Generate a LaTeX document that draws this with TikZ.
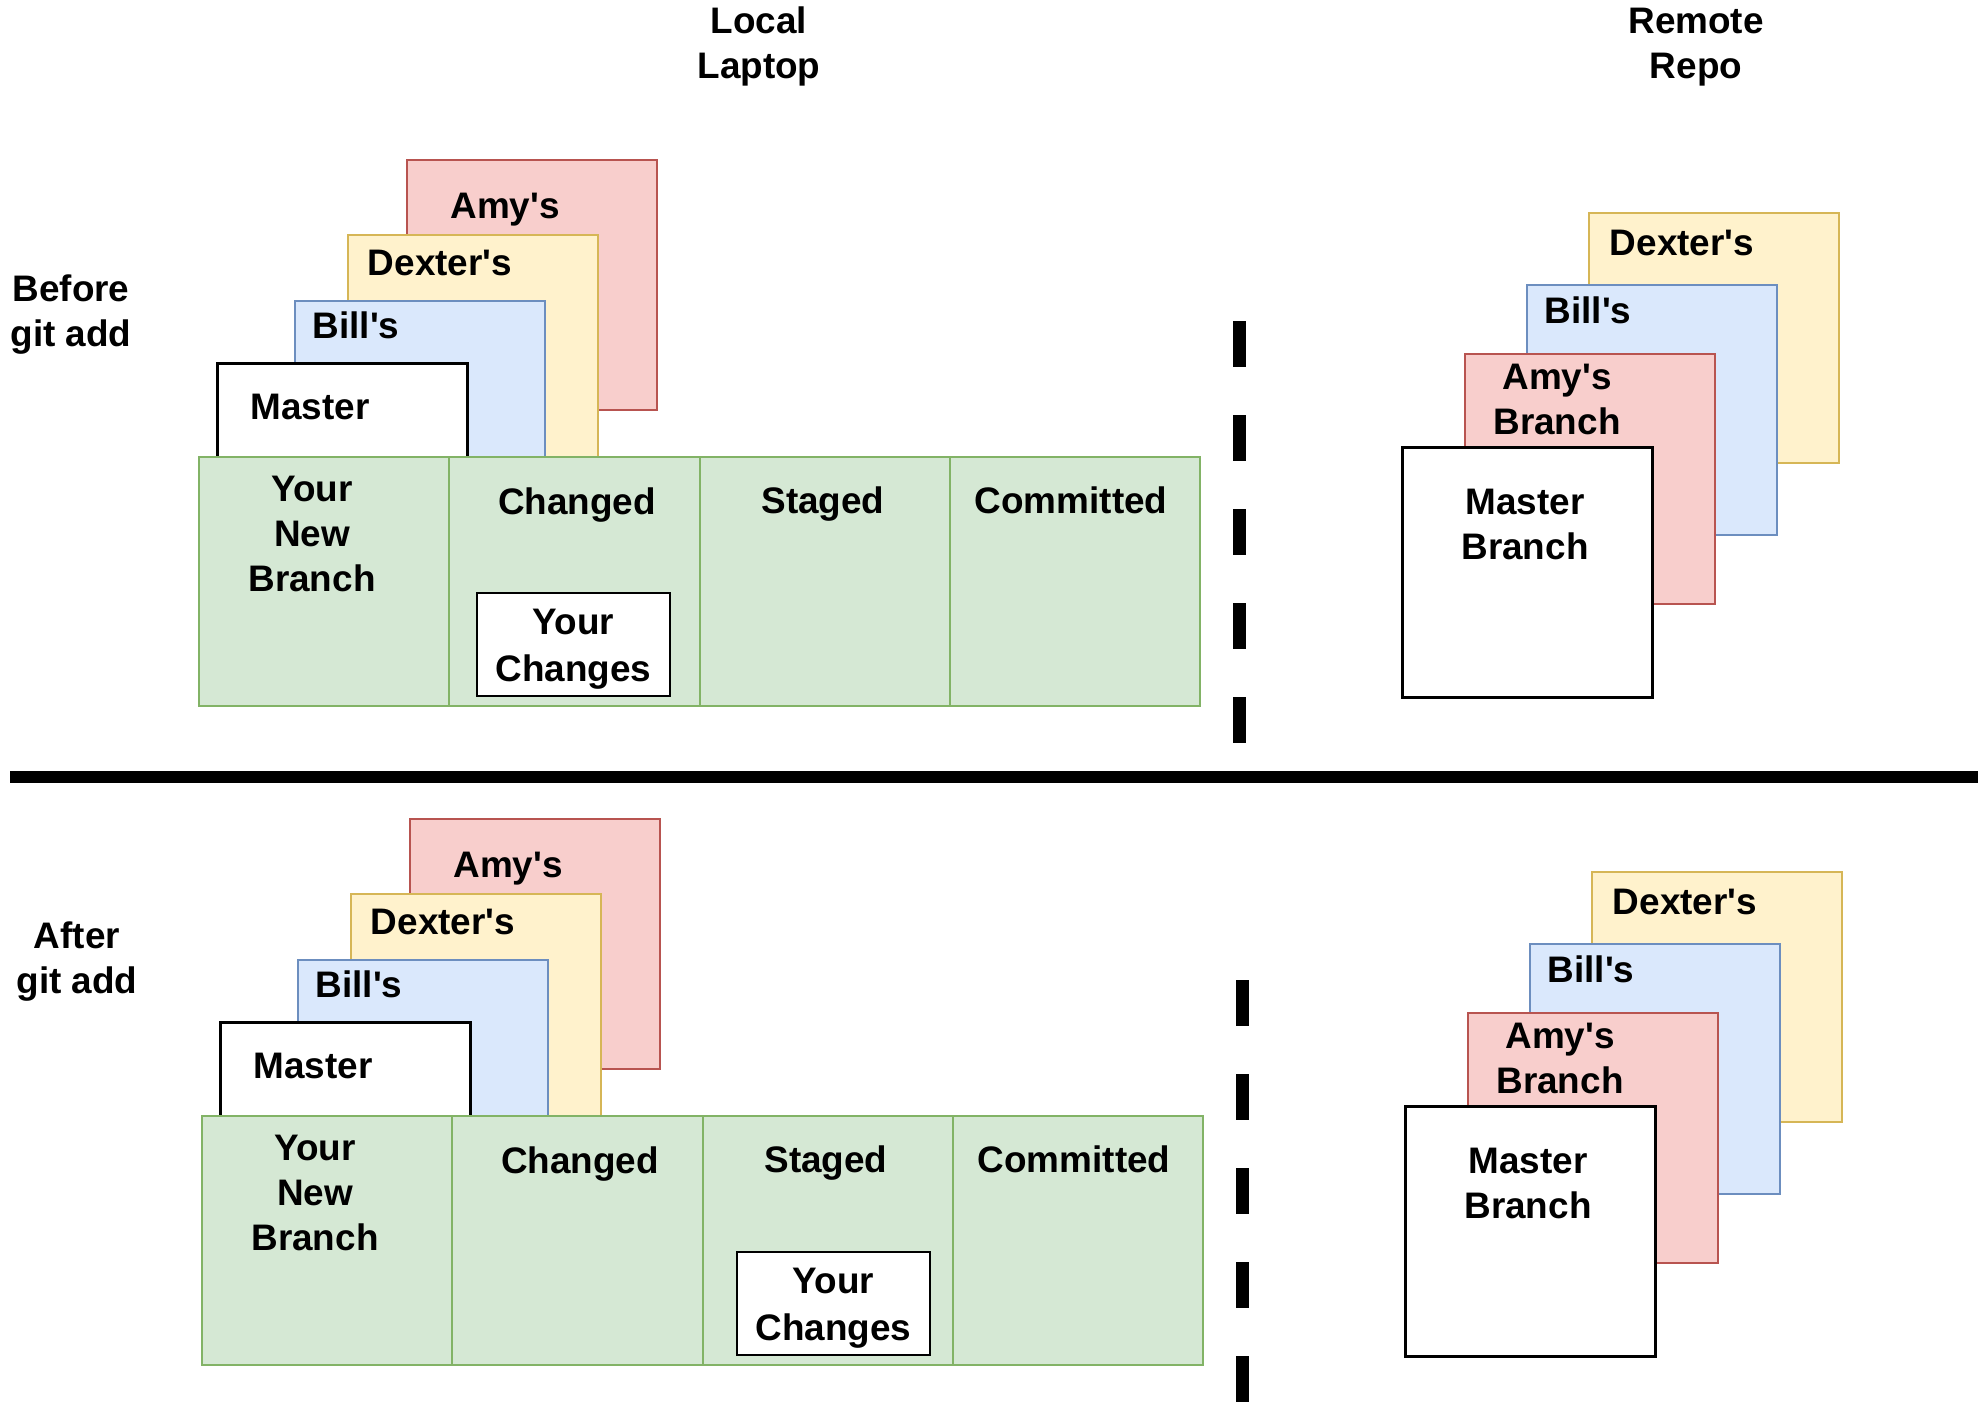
\documentclass[tikz,border=0pt]{standalone}
\usepackage{fontspec}
\setmainfont{Liberation Sans}
\definecolor{amyfill}{HTML}{F8CECC}\definecolor{amyline}{HTML}{B85450}
\definecolor{dexfill}{HTML}{FFF2CC}\definecolor{dexline}{HTML}{D6B656}
\definecolor{billfill}{HTML}{DAE8FC}\definecolor{billline}{HTML}{6C8EBF}
\definecolor{stagefill}{HTML}{D5E8D4}\definecolor{stageline}{HTML}{82B366}
\newcommand{\apos}{\textquotesingle}
\begin{document}
\begin{tikzpicture}[x=0.5pt,y=-0.5pt,
  every node/.style={font=\fontsize{18.45}{22.5}\selectfont\bfseries},
  sheet/.style={draw, line width=1pt, anchor=north west, inner sep=0pt,
    minimum width=125pt, minimum height=125pt},
  plainsheet/.style={sheet, fill=white, draw=black, line width=1.3pt},
  cell/.style={draw=stageline, fill=stagefill, line width=1pt, anchor=north west,
    inner sep=0pt, minimum width=125.125pt, minimum height=124.5pt},
  % text boxes: height runs from the cap line of the first row to the last baseline
  lbl/.style={inner sep=0pt, align=center, text height=13.21pt, text depth=0pt},
  lbltwo/.style={lbl, text height=35.71pt},
  lblthree/.style={lbl, text height=58.21pt},
  changes/.style={draw=black, fill=white, line width=1.4pt, inner sep=0pt,
    minimum width=96.5pt, minimum height=51.5pt, align=center,
    font=\fontsize{18.45}{23.5}\selectfont\bfseries,
    text height=36.71pt, text depth=0pt},
  divider/.style={line width=6.5pt, dash pattern=on 23pt off 24pt},
  rule/.style={line width=6pt}]
\useasboundingbox (0,0) rectangle (1984,1408);

% column headings
\node[lbltwo] (hlocal) at (759,43) {Local\\Laptop};
\node[lbltwo] (hremote) at (1696,43) {Remote\\Repo};

% row headings
\node[lbltwo] (hbefore) at (71,311) {Before\\git add};
\node[lbltwo] (hafter) at (77,958) {After\\git add};

% separator between the two states
\coordinate (rule-l) at (10,777);
\coordinate (rule-r) at (1978,777);
\draw[rule] (rule-l) -- (rule-r);

\foreach \p/\dx/\dy/\xc in {a/0/0/573.5, b/3/659/830.5}{
\begin{scope}[shift={(\dx,\dy)}]
  % local branches, back to front
  \node[sheet, fill=amyfill, draw=amyline] (\p-amy) at (406,159) {};
  \node[sheet, fill=dexfill, draw=dexline] (\p-dex) at (347,234) {};
  \node[sheet, fill=billfill, draw=billline] (\p-bill) at (294,300) {};
  \node[plainsheet] (\p-master) at (216,362) {};
  \node[lbl] (\p-amyl) at (505,205) {Amy\apos s};
  \node[lbl] (\p-dexl) at (440,262) {Dexter\apos s};
  \node[lbl] (\p-billl) at (356,325) {Bill\apos s};
  \node[lbl] (\p-masterl) at (310,406) {Master};

  % working tree stages
  \node[cell] (\p-new) at (198,456) {};
  \node[cell] (\p-chg) at (448.25,456) {};
  \node[cell] (\p-stg) at (698.5,456) {};
  \node[cell] (\p-com) at (948.75,456) {};
  \node[lblthree] (\p-newl) at (312,533) {Your\\New\\Branch};
  \node[lbl] (\p-chgl) at (577,501) {Changed};
  \node[lbl] (\p-stgl) at (823,500) {Staged};
  \node[lbl] (\p-coml) at (1071,500) {Committed};
  \node[changes] (\p-yours) at (\xc,644.5) {Your\\Changes};

  % local / remote boundary
  \coordinate (\p-d1) at (1239,321);
  \coordinate (\p-d2) at (1239,743);
  \draw[divider] (\p-d1) -- (\p-d2);

  % remote branches, back to front
  \node[sheet, fill=dexfill, draw=dexline] (\p-rdex) at (1588,212) {};
  \node[sheet, fill=billfill, draw=billline] (\p-rbill) at (1526,284) {};
  \node[sheet, fill=amyfill, draw=amyline] (\p-ramy) at (1464,353) {};
  \node[plainsheet] (\p-rmaster) at (1401,446) {};
  \node[lbl] (\p-rdexl) at (1682,242) {Dexter\apos s};
  \node[lbl] (\p-rbilll) at (1588,310) {Bill\apos s};
  \node[lbltwo] (\p-ramyl) at (1557,398.5) {Amy\apos s\\Branch};
  \node[lbltwo] (\p-rmasterl) at (1525,523.5) {Master\\Branch};
\end{scope}}
\end{tikzpicture}
\end{document}
